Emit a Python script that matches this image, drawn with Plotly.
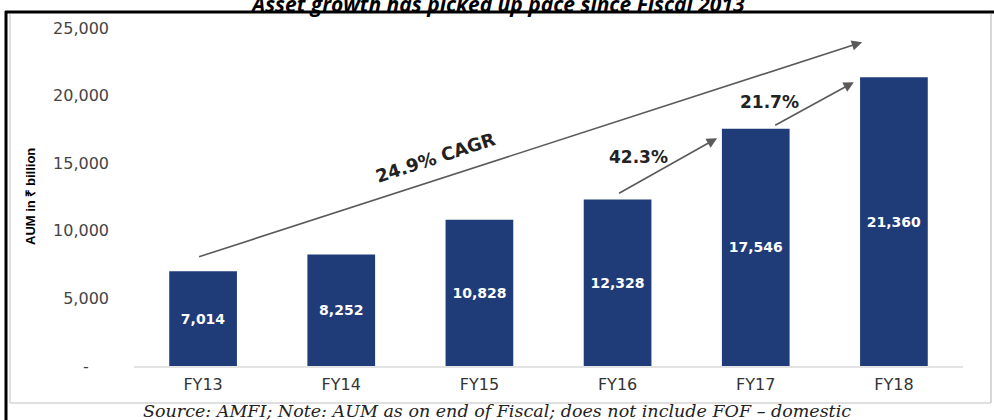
import plotly.graph_objects as go

# AUM by fiscal year, in ₹ billion
years = ["FY13", "FY14", "FY15", "FY16", "FY17", "FY18"]
aum = [7014, 8252, 10828, 12328, 17546, 21360]
bar_labels = ["7,014", "8,252", "10,828", "12,328", "17,546", "21,360"]

tick_vals = [0, 5000, 10000, 15000, 20000, 25000]
tick_text = ["-\u00a0\u00a0\u00a0\u00a0", "5,000", "10,000", "15,000", "20,000", "25,000"]

growth_notes = ["24.9% CAGR", "42.3%", "21.7%"]

title_text = "Asset growth has picked up pace since Fiscal 2013"
source_text = "Source: AMFI; Note: AUM as on end of Fiscal; does not include FOF \u2013 domestic"
y_title = "AUM in \u20b9 billion"

W, H = 994, 420
ML, MR, MT, MB = 134, 31, 20, 54
PW, PH = W - ML - MR, H - MT - MB


def px(x):
    return (x - ML) / PW


def py(y):
    return (H - MB - y) / PH


BAR = "#1f3b78"
ARROW = "#5a5a5a"
SANS = "DejaVu Sans, Arial"

fig = go.Figure()
fig.add_trace(go.Bar(
    x=list(range(len(years))), y=aum,
    marker=dict(color=BAR, line=dict(width=0)),
    width=0.49,
    text=bar_labels, textposition="inside", insidetextanchor="middle",
    textfont=dict(family=SANS, size=14, color="white", weight="bold"),
    textangle=0,
    hoverinfo="skip",
))

# frame: heavy black top/left edge and a light grey inner box
fig.add_shape(type="line", xref="paper", yref="paper",
              x0=px(10), x1=px(991), y0=py(403), y1=py(403),
              line=dict(color="#d4d4d4", width=1.5))
fig.add_shape(type="line", xref="paper", yref="paper",
              x0=px(10), x1=px(10), y0=py(14), y1=py(403),
              line=dict(color="#d4d4d4", width=1.5))
fig.add_shape(type="line", xref="paper", yref="paper",
              x0=px(991), x1=px(991), y0=py(14), y1=py(403),
              line=dict(color="#c8c8c8", width=1.5))
fig.add_shape(type="line", xref="paper", yref="paper",
              x0=px(5), x1=px(994), y0=py(12), y1=py(12),
              line=dict(color="black", width=3))
fig.add_shape(type="line", xref="paper", yref="paper",
              x0=px(6), x1=px(6), y0=py(11), y1=py(421),
              line=dict(color="black", width=3))

# growth arrows
arrows = [
    ((-0.04, 8050), (4.77, 23960)),
    ((3.0, 12720), (3.72, 16860)),
    ((4.13, 17750), (4.71, 21000)),
]
for (x0, y0), (x1, y1) in arrows:
    fig.add_annotation(x=x1, y=y1, ax=x0, ay=y0, xref="x", yref="y",
                       axref="x", ayref="y", text="", showarrow=True,
                       arrowhead=2, arrowsize=1.3, arrowwidth=1.6,
                       arrowcolor=ARROW)

note_font = dict(family=SANS, size=17, color="#222222", weight="bold")
fig.add_annotation(x=1.68, y=15450, xref="x", yref="y", text=growth_notes[0],
                   showarrow=False, textangle=-18,
                   font=dict(family=SANS, size=18, color="#222222", weight="bold"))
fig.add_annotation(x=3.15, y=15450, xref="x", yref="y", text=growth_notes[1],
                   showarrow=False, font=note_font)
fig.add_annotation(x=4.10, y=19500, xref="x", yref="y", text=growth_notes[2],
                   showarrow=False, font=note_font)

# title, axis title and source line
fig.add_annotation(x=px(497), y=py(4), xref="paper", yref="paper", text=title_text,
                   showarrow=False, xanchor="center", yanchor="middle",
                   font=dict(family="Open Sans, Arial", size=21, color="black",
                             weight="bold", style="italic"))
fig.add_annotation(x=px(30), y=py(197), xref="paper", yref="paper", text=y_title,
                   showarrow=False, textangle=-90, xanchor="center", yanchor="middle",
                   font=dict(family="Liberation Sans Narrow, Arial", size=13,
                             color="black", weight="bold"))
fig.add_annotation(x=px(497), y=py(411), xref="paper", yref="paper", text=source_text,
                   showarrow=False, xanchor="center", yanchor="middle",
                   font=dict(family="DejaVu Serif, Liberation Serif", size=17.5,
                             color="#222222", style="italic"))

fig.update_layout(
    width=W, height=H,
    margin=dict(l=ML, r=MR, t=MT, b=MB, pad=0),
    paper_bgcolor="white", plot_bgcolor="white",
    showlegend=False,
    bargap=0.5,
    xaxis=dict(
        range=[-0.5, 5.5], tickmode="array",
        tickvals=list(range(len(years))), ticktext=years,
        showgrid=False, zeroline=False, showline=True,
        linecolor="#e3e3e3", linewidth=1.5, ticks="",
        tickfont=dict(family=SANS, size=16, color="#333333"),
        ticklabelstandoff=3,
    ),
    yaxis=dict(
        range=[0, 25600], tickmode="array",
        tickvals=tick_vals, ticktext=tick_text,
        showgrid=False, zeroline=False, showline=False, ticks="",
        tickfont=dict(family=SANS, size=16, color="#444444"),
        ticklabelstandoff=24,
    ),
)

fig.write_html("out.html")
